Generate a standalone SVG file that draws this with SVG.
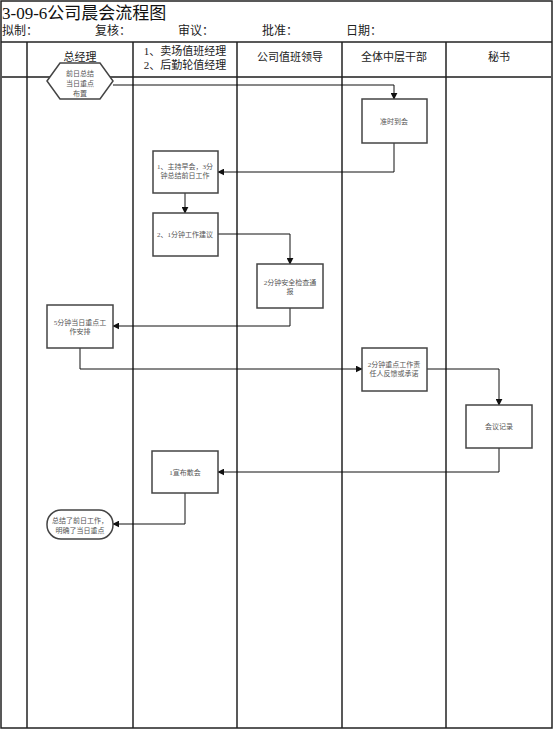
<svg xmlns="http://www.w3.org/2000/svg" width="554" height="730" viewBox="0 0 554 730">
<style>
text{font-family:"Liberation Serif","Noto Sans CJK SC",serif}
.t{font-size:17px;fill:#111}
.r{font-size:12px;fill:#222}
.h{font-size:11px;fill:#222;text-anchor:middle}
.b{font-size:7px;fill:#555;text-anchor:middle}
.grid{stroke:#222;stroke-width:1.5;fill:none}
.node{fill:#fff;stroke:#444;stroke-width:1.5}
.c{fill:none;stroke:#111;stroke-width:1}
</style>
<defs>
<marker id="a" viewBox="0 0 10 10" refX="9" refY="5" markerWidth="7" markerHeight="7" orient="auto" markerUnits="userSpaceOnUse">
<path d="M0,0L10,5L0,10z" fill="#111"/>
</marker>
</defs>
<rect width="554" height="730" fill="#fff"/>
<g id="header">
<text class="t" x="2" y="19">3-09-6公司晨会流程图</text>
<text class="r" x="2" y="35">拟制：</text>
<text class="r" x="95" y="35">复核：</text>
<text class="r" x="178" y="35">审议：</text>
<text class="r" x="262" y="35">批准：</text>
<text class="r" x="346" y="35">日期：</text>
</g>
<g id="table">
<rect class="grid" x="1" y="1" width="551" height="727"/>
<line class="grid" x1="1" y1="42" x2="552" y2="42"/>
<line x1="1" y1="77" x2="552" y2="77" stroke="#555" stroke-width="2"/>
<line class="grid" x1="27" y1="42" x2="27" y2="728"/>
<line class="grid" x1="133" y1="42" x2="133" y2="728"/>
<line class="grid" x1="237" y1="42" x2="237" y2="728"/>
<line class="grid" x1="342" y1="42" x2="342" y2="728"/>
<line class="grid" x1="446" y1="42" x2="446" y2="728"/>
<text class="h" x="80" y="61">总经理</text>
<text class="h" x="185" y="55">1、卖场值班经理</text>
<text class="h" x="185" y="69">2、后勤轮值经理</text>
<text class="h" x="290" y="61">公司值班领导</text>
<text class="h" x="394" y="61">全体中层干部</text>
<text class="h" x="499" y="61">秘书</text>
</g>
<g id="connectors">
<path class="c" d="M113,85H394V99" marker-end="url(#a)"/>
<path class="c" d="M394,143V172H218" marker-end="url(#a)"/>
<path class="c" d="M185,193V213" marker-end="url(#a)"/>
<path class="c" d="M218,234H290V264" marker-end="url(#a)"/>
<path class="c" d="M290,308V326H113" marker-end="url(#a)"/>
<path class="c" d="M80,348V369H362" marker-end="url(#a)"/>
<path class="c" d="M427,369H499V405" marker-end="url(#a)"/>
<path class="c" d="M499,448V472H218" marker-end="url(#a)"/>
<path class="c" d="M185,493V524H113" marker-end="url(#a)"/>
</g>
<g id="n_start">
<polygon class="node" points="47,81 60,63 100,63 113,81 100,99 60,99"/>
<text class="b" x="80" y="76">前日总结</text>
<text class="b" x="80" y="86">当日重点</text>
<text class="b" x="80" y="96">布置</text>
</g>
<g id="n_arrive">
<rect class="node" x="362" y="99" width="65" height="44"/>
<text class="b" x="394" y="124">准时到会</text>
</g>
<g id="n_host">
<rect class="node" x="153" y="151" width="65" height="42"/>
<text class="b" x="185" y="169">1、主持早会，3分</text>
<text class="b" x="185" y="178">钟总结前日工作</text>
</g>
<g id="n_suggest">
<rect class="node" x="153" y="213" width="65" height="43"/>
<text class="b" x="185" y="237">2、1分钟工作建议</text>
</g>
<g id="n_safety">
<rect class="node" x="257" y="264" width="66" height="44"/>
<text class="b" x="290" y="285">2分钟安全检查通</text>
<text class="b" x="290" y="294">报</text>
</g>
<g id="n_arrange">
<rect class="node" x="47" y="305" width="66" height="43"/>
<text class="b" x="80" y="325">5分钟当日重点工</text>
<text class="b" x="80" y="334">作安排</text>
</g>
<g id="n_feedback">
<rect class="node" x="362" y="348" width="65" height="43"/>
<text class="b" x="394" y="367">2分钟重点工作责</text>
<text class="b" x="394" y="376">任人反馈或承诺</text>
</g>
<g id="n_record">
<rect class="node" x="466" y="405" width="66" height="43"/>
<text class="b" x="499" y="429">会议记录</text>
</g>
<g id="n_dismiss">
<rect class="node" x="152" y="451" width="66" height="42"/>
<text class="b" x="185" y="475">1宣布散会</text>
</g>
<g id="n_end">
<rect class="node" x="47" y="510" width="66" height="29" rx="14" ry="14"/>
<text class="b" x="80" y="523">总结了前日工作，</text>
<text class="b" x="80" y="533">明确了当日重点</text>
</g>
</svg>
